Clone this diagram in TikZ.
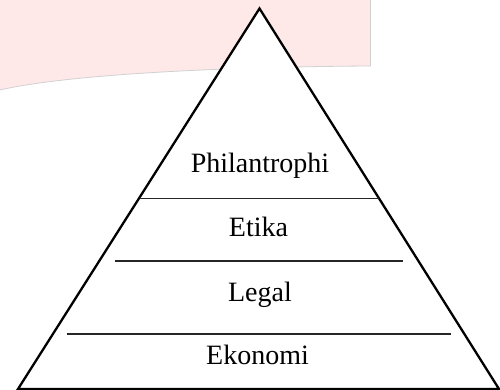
\documentclass[tikz,border=0pt]{standalone}
\usepackage{fontspec}
\setmainfont{Liberation Serif}
\definecolor{pinkbg}{RGB}{254,232,232}
\begin{document}
\begin{tikzpicture}[x=1pt,y=-1pt,
  layer/.style={font=\fontsize{28}{32}\selectfont, anchor=base, inner sep=0pt},
  edge/.style={draw=black, line width=2.3pt, line join=miter},
  divider/.style={draw=black!85, line width=1.6pt}]
\useasboundingbox (0,0) rectangle (500,390);
% pink banner
\fill[pinkbg] (0,0) -- (370.5,0) -- (370.5,66) .. controls (200,67) and (60,76) .. (0,90) -- cycle;
\draw[black!18, line width=0.8pt] (370.5,0) -- (370.5,66) .. controls (200,67) and (60,76) .. (0,90);
% pyramid
\coordinate (apex) at (259.5,8.5);
\coordinate (bl) at (18,389);
\coordinate (br) at (499,389);
\fill[white] (apex) -- (br) -- (bl) -- cycle;
\draw[edge] (apex) -- (br) -- (bl) -- cycle;
% dividers
\coordinate (d1l) at (139.5,198.3);
\coordinate (d1r) at (378.5,198.3);
\coordinate (d2l) at (115,260.7);
\coordinate (d2r) at (402.7,260.7);
\coordinate (d3l) at (66.7,333.7);
\coordinate (d3r) at (451,333.7);
\draw[divider] (d1l) -- (d1r);
\draw[divider] (d2l) -- (d2r);
\draw[divider] (d3l) -- (d3r);
% labels
\node[layer] (phil) at (260,172.3) {Philantrophi};
\node[layer] (etika) at (258.5,236) {Etika};
\node[layer] (legal) at (260,301.7) {Legal};
\node[layer] (ekonomi) at (257.5,364) {Ekonomi};
\end{tikzpicture}
\end{document}
